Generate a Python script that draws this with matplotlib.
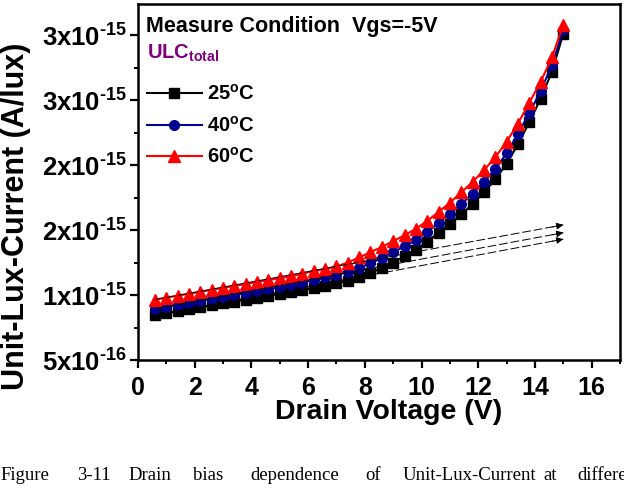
import matplotlib
matplotlib.use("Agg")
import matplotlib.pyplot as plt
from matplotlib.ticker import FixedLocator, MultipleLocator

plt.rcParams['font.family'] = ['Liberation Sans', 'DejaVu Sans']
plt.rcParams['mathtext.default'] = 'regular'

# ---- data (unit: 1e-15 A/lux) ----
drain_v = [0.6, 1.0, 1.4, 1.8, 2.2, 2.6, 3.0, 3.4, 3.8, 4.2, 4.6, 5.0, 5.4, 5.8, 6.2,
           6.6, 7.0, 7.4, 7.8, 8.2, 8.6, 9.0, 9.4, 9.8, 10.2, 10.6, 11.0, 11.4, 11.8,
           12.2, 12.6, 13.0, 13.4, 13.8, 14.2, 14.6, 15.0]
ulc_25 = [0.845, 0.86, 0.875, 0.89, 0.905, 0.92, 0.935, 0.95, 0.965, 0.98, 0.995, 1.01,
          1.025, 1.04, 1.055, 1.07, 1.09, 1.11, 1.14, 1.17, 1.21, 1.25, 1.30, 1.35, 1.41,
          1.48, 1.55, 1.62, 1.70, 1.79, 1.89, 2.01, 2.16, 2.33, 2.51, 2.72, 3.01]
ulc_40 = [0.895, 0.91, 0.925, 0.94, 0.955, 0.97, 0.985, 1.0, 1.015, 1.03, 1.045, 1.06,
          1.075, 1.095, 1.115, 1.135, 1.155, 1.18, 1.21, 1.245, 1.285, 1.33, 1.375, 1.425,
          1.485, 1.555, 1.625, 1.70, 1.78, 1.87, 1.97, 2.09, 2.24, 2.40, 2.57, 2.77, 3.04]
ulc_60 = [0.965, 0.98, 0.995, 1.01, 1.025, 1.04, 1.055, 1.07, 1.085, 1.10, 1.115, 1.13,
          1.145, 1.165, 1.185, 1.20, 1.22, 1.25, 1.29, 1.33, 1.37, 1.415, 1.46, 1.51,
          1.57, 1.64, 1.71, 1.79, 1.87, 1.96, 2.06, 2.18, 2.32, 2.48, 2.64, 2.83, 3.08]
# linear-trend extrapolations (dashed arrows)
fit_x = [0.6, 15.0]
fit_25 = [0.845, 1.43]
fit_40 = [0.895, 1.48]
fit_60 = [0.965, 1.54]

series_labels = ['25$^{o}$C', '40$^{o}$C', '60$^{o}$C']
x_ticks = [0, 2, 4, 6, 8, 10, 12, 14, 16]
y_ticks = [0.5, 1.0, 1.5, 2.0, 2.5, 3.0]
y_tick_labels = ['5x10$^{\u201016}$', '1x10$^{\u201015}$', '2x10$^{\u201015}$',
                 '2x10$^{\u201015}$', '3x10$^{\u201015}$', '3x10$^{\u201015}$']
caption_words = ['Figure', '3-11', 'Drain', 'bias', 'dependence', 'of',
                 'Unit-Lux-Current', 'at', 'different']
caption_x = [0, 77, 128, 193, 250, 365, 403, 543, 577]

# ---- figure ----
fig = plt.figure(figsize=(6.24, 4.90), dpi=100)
ax = fig.add_axes([138/624, 1-360/490, (620-138)/624, (360-4)/490])

ax.plot(drain_v, ulc_25, color='black', marker='s', ms=6.5, lw=1.5, label=series_labels[0], zorder=3)
ax.plot(drain_v, ulc_40, color='#000090', marker='o', ms=7, lw=1.5, label=series_labels[1], zorder=4)
ax.plot(drain_v, ulc_60, color='#ff0000', marker='^', ms=8, lw=1.5, label=series_labels[2], zorder=5)

for fy in (fit_25, fit_40, fit_60):
    ax.plot(fit_x, fy, color='black', lw=0.7, dashes=(9, 3), zorder=6)
    ax.annotate('', xy=(fit_x[1], fy[1]),
                xytext=(fit_x[1] - 0.4, fy[0] + (fy[1]-fy[0]) * (fit_x[1]-0.4-fit_x[0])/(fit_x[1]-fit_x[0])),
                arrowprops=dict(arrowstyle='-|>', color='black', lw=0.7, mutation_scale=10,
                                shrinkA=0, shrinkB=0), zorder=6)

ax.set_xlim(0, 17)
ax.set_ylim(0.5, 3.24)
ax.xaxis.set_major_locator(FixedLocator(x_ticks))
ax.xaxis.set_minor_locator(MultipleLocator(1))
ax.yaxis.set_major_locator(FixedLocator(y_ticks))
ax.yaxis.set_minor_locator(MultipleLocator(0.25))
ax.set_yticklabels(y_tick_labels)

for s in ax.spines.values():
    s.set_linewidth(1.8)
ax.tick_params(which='major', direction='out', length=6, width=1.6, labelsize=18.5, pad=2)
ax.tick_params(which='minor', direction='out', length=3, width=1.4)
ax.tick_params(axis='x', labelsize=18, pad=5.5)
for lab in ax.get_xticklabels() + ax.get_yticklabels():
    lab.set_fontweight('bold')

ax.set_xlabel('Drain Voltage (V)', fontsize=20.5, fontweight='bold')
ax.xaxis.set_label_coords(0.52, -0.11)
ax.set_ylabel('Unit-Lux-Current (A/lux)', fontsize=22, fontweight='bold')
ax.yaxis.set_label_coords(-0.222, 0.405)

ax.text(0.017, 0.921, 'Measure Condition  Vgs=-5V', transform=ax.transAxes,
        fontsize=15.5, fontweight='bold', va='baseline', ha='left')
ax.text(0.019, 0.846, 'ULC$_{total}$', transform=ax.transAxes, color='#800080',
        fontsize=14.5, fontweight='bold', va='baseline', ha='left')

leg = ax.legend(loc='upper left', bbox_to_anchor=(0.019, 0.775), frameon=False,
                borderpad=0, borderaxespad=0, handlelength=2.7, handletextpad=0.25,
                labelspacing=0.57, prop={'weight': 'bold', 'size': 14.5})

for w, xp in zip(caption_words, caption_x):
    fig.text(xp/624, 1-480/490, w, family=['Liberation Serif', 'DejaVu Serif'],
             fontsize=13.5, va='baseline', ha='left')

fig.savefig('out.png', dpi=100)
